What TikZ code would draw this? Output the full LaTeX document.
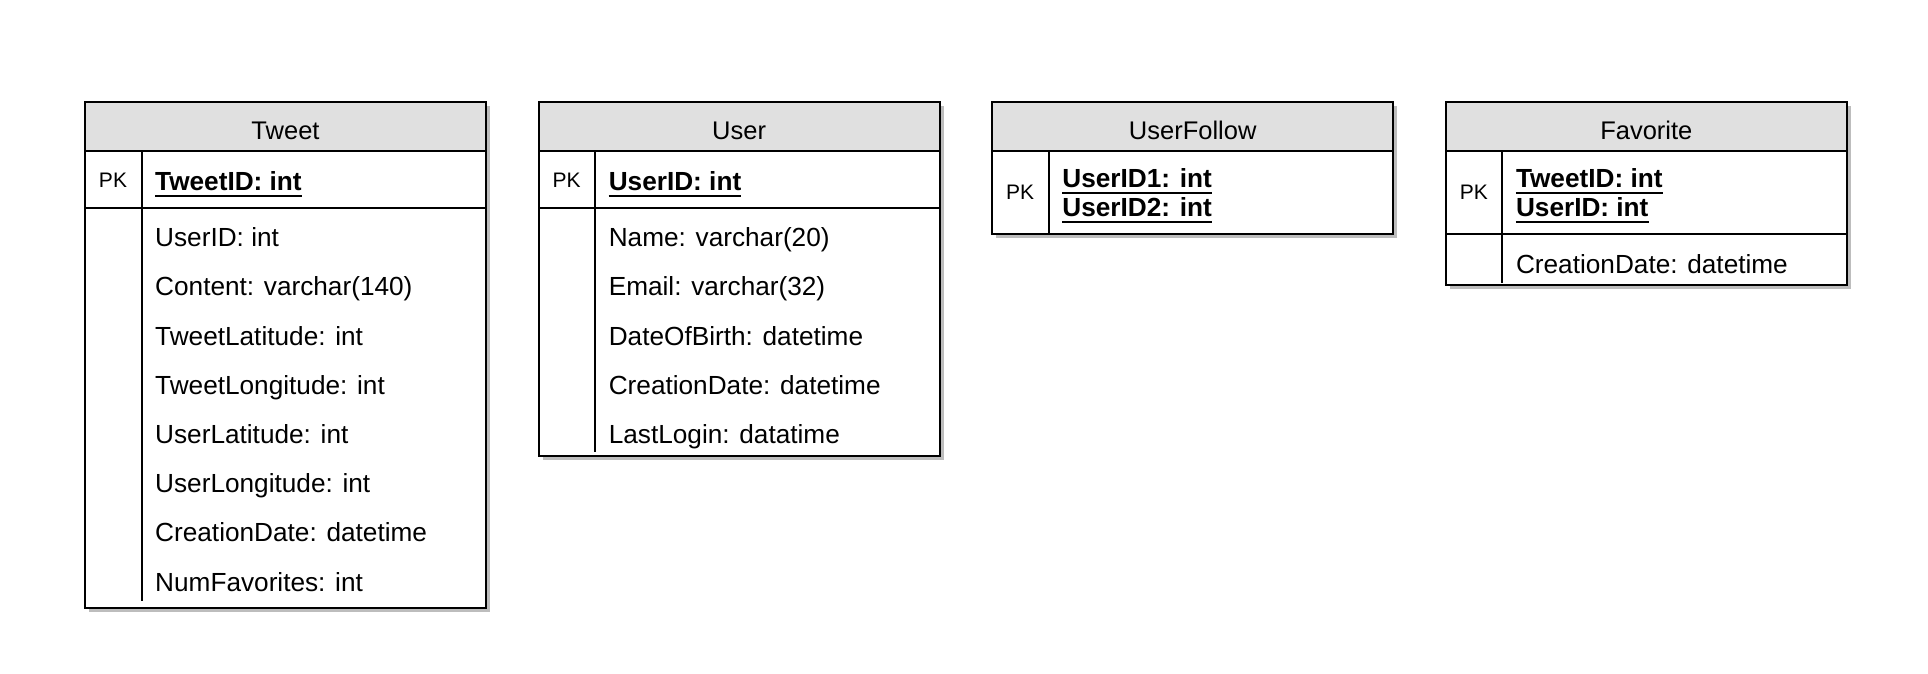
\documentclass[tikz,border=0pt]{standalone}
\usepackage{fontspec}
\setmainfont{Liberation Sans}
\definecolor{hdrc}{HTML}{E0E0E0}
\definecolor{shadowc}{HTML}{BDBDBD}
\tikzset{
  frame/.style={draw=black, line width=2pt},
  title/.style={font=\fontsize{25.5}{30}\selectfont, anchor=base, inner sep=0pt},
  field/.style={font=\fontsize{26.2}{30}\selectfont, anchor=base west, inner sep=0pt},
  keyfield/.style={font=\fontsize{26.2}{30}\selectfont\bfseries, anchor=base west, inner sep=0pt},
  pklabel/.style={font=\fontsize{21}{24}\selectfont, anchor=center, inner sep=0pt},
  uline/.style={line width=2.3pt},
}
\newcommand\ertable[5]{% #1 left, #2 pk line, #3 bottom, #4 divider end, #5 title
  \fill[shadowc] (#1+4,106) rectangle (#1+405,#3+4);
  \fill[white] (#1,102) rectangle (#1+401,#3);
  \fill[hdrc] (#1,102) rectangle (#1+401,151);
  \draw[frame] (#1,102) rectangle (#1+401,#3);
  \draw[frame] (#1,151) -- (#1+401,151);
  \draw[frame] (#1,#2) -- (#1+401,#2);
  \draw[frame] (#1+56.5,151) -- (#1+56.5,#4);
  \node[title] (#5title) at (#1+200.5,139.5) {#5};
}
\newcommand\keyline[1]{%
  \draw[uline] ([yshift=-6pt]#1.base west) -- ([yshift=-6pt]#1.base east);
}
\begin{document}
\begin{tikzpicture}[x=1pt,y=-1pt]
\useasboundingbox (0,0) rectangle (1928,674);

% Tweet
\ertable{85}{208}{608}{601}{Tweet}
\node[pklabel] (tpk) at (113,180.5) {PK};
\node[keyfield] (tk1) at (155,190) {TweetID: int};
\keyline{tk1}
\node[field] (tf0) at (155,246.6) {UserID: int};
\node[field] (tf1) at (155,295.8) {Content: varchar(140)};
\node[field] (tf2) at (155,345.0) {TweetLatitude: int};
\node[field] (tf3) at (155,394.2) {TweetLongitude: int};
\node[field] (tf4) at (155,443.4) {UserLatitude: int};
\node[field] (tf5) at (155,492.6) {UserLongitude: int};
\node[field] (tf6) at (155,541.8) {CreationDate: datetime};
\node[field] (tf7) at (155,591.0) {NumFavorites: int};

% User
\ertable{538.6}{208}{456}{452}{User}
\node[pklabel] (upk) at (566.6,180.5) {PK};
\node[keyfield] (uk1) at (608.6,190) {UserID: int};
\keyline{uk1}
\node[field] (uf0) at (608.6,246.6) {Name: varchar(20)};
\node[field] (uf1) at (608.6,295.8) {Email: varchar(32)};
\node[field] (uf2) at (608.6,345.0) {DateOfBirth: datetime};
\node[field] (uf3) at (608.6,394.2) {CreationDate: datetime};
\node[field] (uf4) at (608.6,443.4) {LastLogin: datatime};

% UserFollow
\ertable{992.2}{234}{234}{234}{UserFollow}
\node[pklabel] (fpk) at (1020.2,192.5) {PK};
\node[keyfield] (fk1) at (1062.2,187.3) {UserID1: int};
\node[keyfield] (fk2) at (1062.2,216) {UserID2: int};
\keyline{fk1}
\keyline{fk2}

% Favorite
\ertable{1445.8}{234}{285}{283}{Favorite}
\node[pklabel] (vpk) at (1473.8,192.5) {PK};
\node[keyfield] (vk1) at (1515.8,187.3) {TweetID: int};
\node[keyfield] (vk2) at (1515.8,216) {UserID: int};
\keyline{vk1}
\keyline{vk2}
\node[field] (vf0) at (1515.8,273.7) {CreationDate: datetime};
\end{tikzpicture}
\end{document}
